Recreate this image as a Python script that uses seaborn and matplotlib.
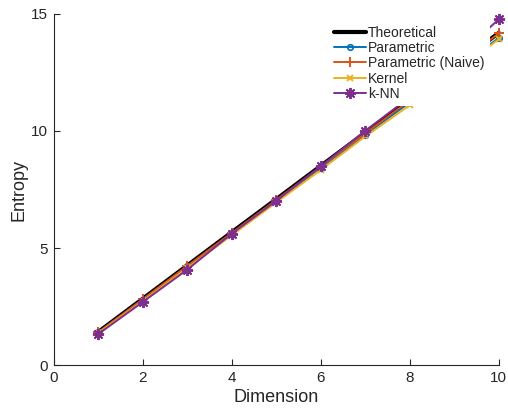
import numpy as np
import pandas as pd
import matplotlib
matplotlib.use("Agg")
import matplotlib.pyplot as plt
import seaborn as sns

# Entropy estimates of a standard Gaussian versus dimension
dimension = [1, 2, 3, 4, 5, 6, 7, 8, 9, 10]
theoretical = [1.42, 2.84, 4.26, 5.68, 7.09, 8.51, 9.93, 11.35, 12.77, 14.19]
parametric = [1.40, 2.80, 4.22, 5.62, 7.03, 8.44, 9.84, 11.22, 12.60, 13.97]
parametric_naive = [1.41, 2.82, 4.24, 5.65, 7.06, 8.48, 9.90, 11.31, 12.74, 14.17]
kernel = [1.37, 2.74, 4.15, 5.55, 6.95, 8.34, 9.77, 11.10, 12.50, 13.92]
knn = [1.33, 2.70, 4.08, 5.62, 7.02, 8.50, 10.01, 11.45, 13.05, 14.77]

series_names = ["Theoretical", "Parametric", "Parametric (Naive)", "Kernel", "k-NN"]
series_values = [theoretical, parametric, parametric_naive, kernel, knn]

sns.set_style("white")
plt.rcParams["font.family"] = ["Liberation Sans", "DejaVu Sans"]

fig = plt.figure(figsize=(5.08, 4.08), dpi=100)
ax = fig.add_axes([0.106, 0.105, 0.876, 0.861])

styles = {
    "Theoretical": dict(color="black", lw=3.0, marker=None),
    "Parametric": dict(color="#0072BD", lw=1.4, marker="o", ms=4, mfc="none", mew=1.2),
    "Parametric (Naive)": dict(color="#D95319", lw=1.4, marker="+", ms=7, mew=1.4),
    "Kernel": dict(color="#EDB120", lw=1.4, marker="x", ms=5, mew=1.4),
    "k-NN": dict(color="#7E2F8E", lw=1.4, marker=(8, 2, 0), ms=8, mew=1.4),
}

for name, vals in zip(series_names, series_values):
    df = pd.DataFrame({"Dimension": dimension, "Entropy": vals})
    st = styles[name]
    kw = dict(color=st["color"], linewidth=st["lw"], label=name, clip_on=False)
    if st["marker"] is not None:
        kw.update(marker=st["marker"], markersize=st["ms"], markeredgewidth=st["mew"],
                  markeredgecolor=st["color"])
        if st.get("mfc"):
            kw["markerfacecolor"] = st["mfc"]
    sns.lineplot(data=df, x="Dimension", y="Entropy", ax=ax, **kw)

ax.set_xlim(0, 10)
ax.set_ylim(0, 15)
ax.set_xticks([0, 2, 4, 6, 8, 10])
ax.set_yticks([0, 5, 10, 15])
ax.set_xlabel("Dimension", fontsize=13, labelpad=3)
ax.set_ylabel("Entropy", fontsize=13, labelpad=3)

for side in ["top", "right"]:
    ax.spines[side].set_visible(False)
for side in ["left", "bottom"]:
    ax.spines[side].set_color("#262626")
    ax.spines[side].set_linewidth(0.8)
ax.tick_params(direction="in", length=4, width=0.8, color="#262626",
               labelsize=11, labelcolor="#262626", pad=4, left=True, bottom=True)

leg = ax.legend(loc="upper right", bbox_to_anchor=(0.98, 0.982), fontsize=10,
                frameon=True, framealpha=1.0, edgecolor="none", facecolor="white",
                fancybox=False, handlelength=2.3, handletextpad=0.15,
                labelspacing=0.09, borderpad=0.4, borderaxespad=0.0)

fig.savefig("out.png", dpi=100)
